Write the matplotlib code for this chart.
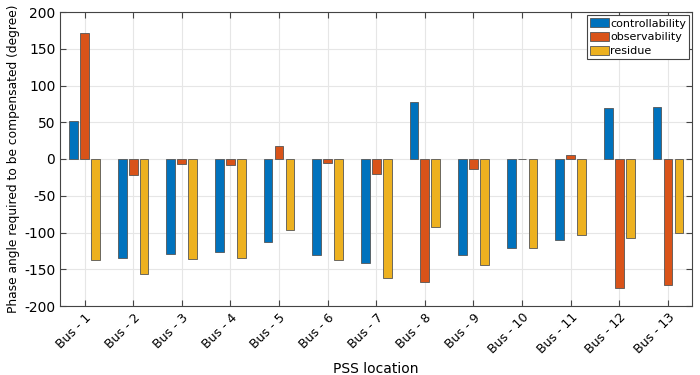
import numpy as np
import matplotlib.pyplot as plt

plt.rcParams['axes.unicode_minus'] = False

buses = ['Bus - %d' % i for i in range(1, 14)]
controllability = [52, -135, -129, -126, -113, -131, -142, 77, -131, -121, -110, 69, 71]
observability = [171, -22, -7, -8, 18, -6, -20, -168, -13, 0, 6, -176, -172]
residue = [-137, -157, -136, -135, -96, -137, -162, -92, -144, -121, -104, -108, -101]

colors = ['#0072BD', '#D95319', '#EDB120']

fig = plt.figure(figsize=(7, 3.75), dpi=100)
ax = fig.add_axes([0.086, 0.184, 0.903, 0.784])

x = np.arange(1, len(buses) + 1)
w = 0.18
off = 0.225
series = [controllability, observability, residue]
names = ['controllability', 'observability', 'residue']
for k, (vals, name) in enumerate(zip(series, names)):
    ax.bar(x + (k - 1) * off, vals, width=w, color=colors[k], edgecolor='#555555',
           linewidth=0.6, label=name, zorder=3)

ax.set_xlim(0.5, 13.5)
ax.set_ylim(-200, 200)
ax.set_yticks(range(-200, 201, 50))
ax.set_xticks(x)
ax.set_xticklabels(buses, rotation=45, ha='right', rotation_mode='anchor', fontsize=9)
ax.tick_params(axis='y', labelsize=10)
ax.tick_params(direction='in', top=True, right=True, length=4, color='#444444')
ax.grid(True, color='#e6e6e6', linewidth=0.8, zorder=0)
for s in ax.spines.values():
    s.set_color('#444444')
    s.set_linewidth(0.8)

ax.set_xlabel('PSS location', fontsize=10)
ax.set_ylabel('Phase angle required to be compensated (degree)', fontsize=8.8)
ax.yaxis.set_label_coords(-0.063, 0.5)

leg = ax.legend(loc='upper right', fontsize=8, fancybox=False, framealpha=1,
                edgecolor='#444444', borderpad=0.25, labelspacing=0.3,
                handlelength=1.7, handleheight=0.9, handletextpad=0.1,
                borderaxespad=0.3)
leg.get_frame().set_linewidth(0.8)

fig.savefig('out.png')
